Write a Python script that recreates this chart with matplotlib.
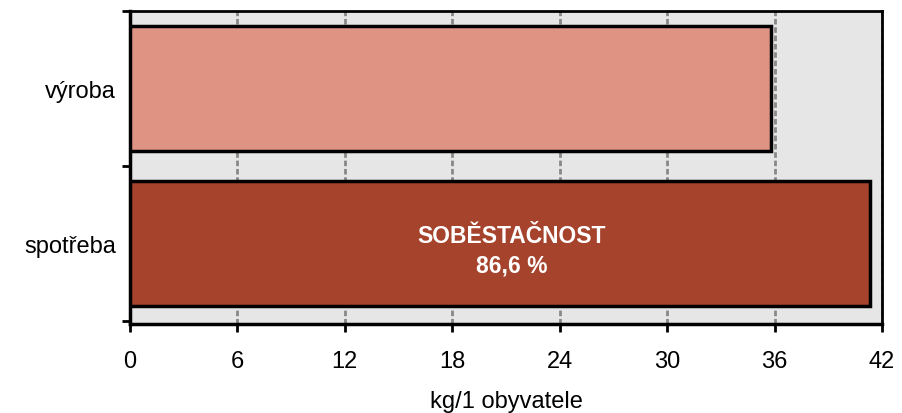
import matplotlib
matplotlib.use("Agg")
import matplotlib.pyplot as plt

plt.rcParams['font.family'] = ['Liberation Sans', 'DejaVu Sans']

categories = ["spotřeba", "výroba"]
values = [41.35, 35.8]
colors = ["#A6432D", "#DF9383"]
xticks = [0, 6, 12, 18, 24, 30, 36, 42]
note = "SOBĚSTAČNOST\n86,6 %"
xlabel = "kg/1 obyvatele"

fig = plt.figure(figsize=(9.03, 4.14), dpi=100)
ax = fig.add_axes([0.144, 0.215, 0.8327, 0.756])
ax.set_facecolor("#E6E6E6")

pos = list(range(len(categories)))
ax.barh(pos, values, height=0.81, color=colors, edgecolor="black", linewidth=2.5, zorder=3)

ax.set_xlim(0, 42)
ax.set_ylim(-0.52, 1.5)
ax.set_xticks(xticks)
ax.set_xticklabels([str(t) for t in xticks], fontsize=17)
ax.set_yticks(pos)
ax.set_yticklabels(categories, fontsize=17)
ax.tick_params(axis='y', length=0, pad=10)
ax.set_yticks([-0.5, 0.5, 1.5], minor=True)
ax.tick_params(axis='y', which='minor', length=6, width=2, direction='out')
ax.tick_params(axis='x', length=6, width=2, direction='out', pad=13)

ax.grid(axis='x', color='#888888', linestyle=(0, (2, 1)), linewidth=2, zorder=1)
ax.set_axisbelow(True)

for s in ['left', 'bottom']:
    ax.spines[s].set_linewidth(2.5)
    ax.spines[s].set_color('black')
for s in ['top', 'right']:
    ax.spines[s].set_linewidth(2)
    ax.spines[s].set_linestyle((0, (1, 1)))
    ax.spines[s].set_color('black')

ax.text(21.3, -0.045, note, ha='center', va='center', color='white', fontsize=16.5,
        fontweight='bold', zorder=4, linespacing=1.35)

ax.set_xlabel(xlabel, fontsize=17, labelpad=13)

fig.savefig("out.png", dpi=100)
